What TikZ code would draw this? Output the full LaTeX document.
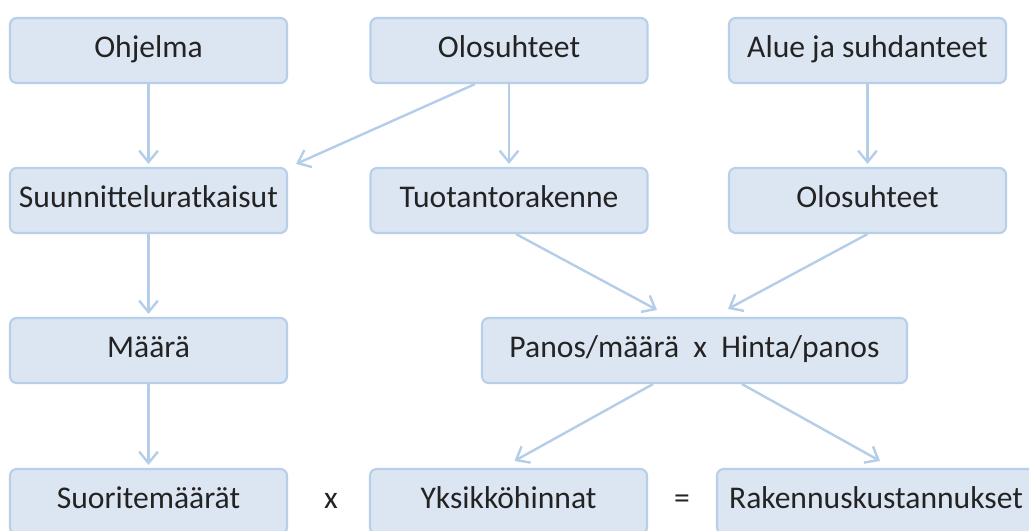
\documentclass[tikz,border=0pt]{standalone}
\usepackage{fontspec}
\setmainfont{Carlito}
\usetikzlibrary{arrows.meta,calc}
\definecolor{boxfill}{RGB}{220,230,242}
\definecolor{boxline}{RGB}{184,207,234}
\definecolor{arrowcol}{RGB}{180,205,233}
\definecolor{txt}{RGB}{35,35,35}
\tikzset{
  box/.style={draw=boxline, fill=boxfill, line width=1.6pt, rounded corners=5pt,
    minimum width=207.75pt, minimum height=48.75pt, inner sep=0pt,
    text=txt, font=\fontsize{23.7}{28}\selectfont, text height=16pt, text depth=4.8pt},
  op/.style={inner sep=0pt, text=txt, font=\fontsize{23.7}{28}\selectfont, text height=16pt, text depth=4.8pt},
  conn/.style={draw=arrowcol, line width=1.8pt, -{Straight Barb[length=8.5pt,width=14pt,line width=1.8pt]}},
}
\begin{document}
\begin{tikzpicture}[x=0.75pt,y=-0.75pt]
\useasboundingbox (0,0) rectangle (1029,531);
\clip (0,0) rectangle (1029,531);
% row 1
\node[box] (ohj) at (148.5,50.5) {Ohjelma};
\node[box] (oloT) at (509,50.5) {Olosuhteet};
\node[box] (alue) at (867.5,50.5) {Alue ja suhdanteet};
% row 2
\node[box] (suun) at (148.5,200.5) {Suunnitteluratkaisut};
\node[box] (tuot) at (509,200.5) {Tuotantorakenne};
\node[box] (oloR) at (867.5,200.5) {Olosuhteet};
% row 3
\node[box] (maara) at (148.5,350.5) {Määrä};
\node[box, minimum width=318.75pt] (panos) at (694.5,350.5) {Panos/määrä\ \ x\ \ Hinta/panos};
% row 4
\node[box] (suor) at (148.5,501.5) {Suoritemäärät};
\node[op] (times) at (331,501.5) {x};
\node[box] (yks) at (508.5,501.5) {Yksikköhinnat};
\node[op] (eq) at (682,501.5) {=};
\node[box, minimum width=238.5pt] (rak) at (876,501.5) {Rakennuskustannukset};
% connectors
\draw[conn, shorten >=2.25pt] (ohj.south) -- (suun.north);
\draw[conn] ($(oloT.south)+(-34,0)$) -- ($(suun.north east)+(8,-3)$);
\draw[conn, shorten >=2.25pt] (oloT.south) -- (tuot.north);
\draw[conn, shorten >=2.25pt] (alue.south) -- (oloR.north);
\draw[conn, shorten >=2.25pt] (suun.south) -- (maara.north);
\draw[conn, shorten >=2.25pt] (maara.south) -- (suor.north);
\draw[conn] ($(tuot.south)+(7,0)$) -- ($(panos.north)+(-37.5,-7)$);
\draw[conn] (oloR.south) -- ($(panos.north)+(33.5,-8)$);
\draw[conn] ($(panos.south)+(-41.5,0)$) -- ($(yks.north)+(6,-7)$);
\draw[conn] ($(panos.south)+(47.5,0)$) -- ($(rak.north)+(4,-7)$);
\end{tikzpicture}
\end{document}
